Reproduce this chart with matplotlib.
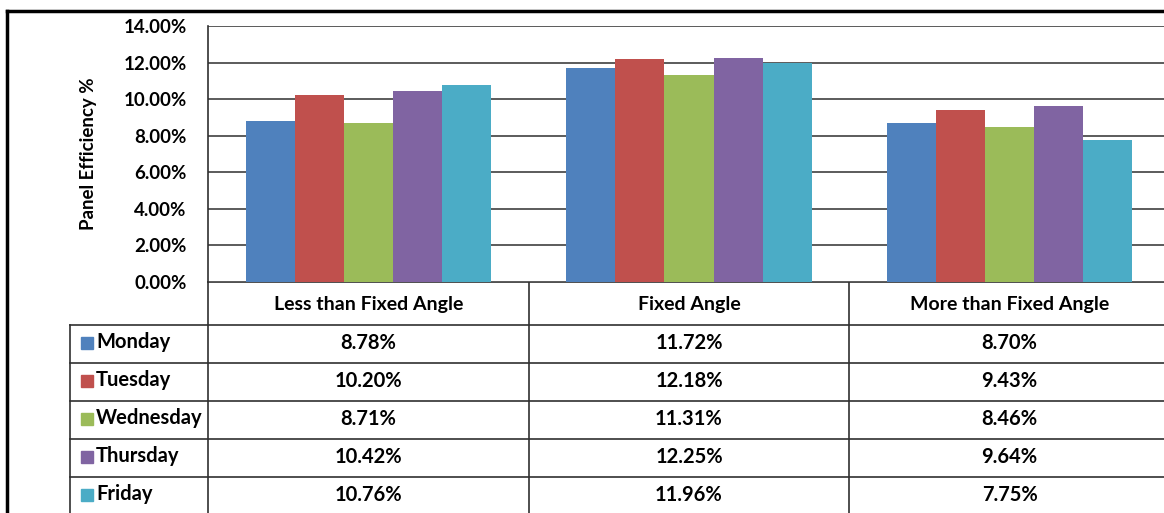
"""
Eficiencia del panel por angulo, grafico de barras con tabla de datos
"""

import matplotlib.pyplot as plt
from matplotlib.ticker import FuncFormatter

# datos ----------------------------------------------------------------------
categorias = ['Less than Fixed Angle', 'Fixed Angle', 'More than Fixed Angle']
dias = ['Monday', 'Tuesday', 'Wednesday', 'Thursday', 'Friday']
monday = [8.78, 11.72, 8.70]
tuesday = [10.20, 12.18, 9.43]
wednesday = [8.71, 11.31, 8.46]
thursday = [10.42, 12.25, 9.64]
friday = [10.76, 11.96, 7.75]
series = [monday, tuesday, wednesday, thursday, friday]
colores = ['#4F81BD', '#C0504D', '#9BBB59', '#8064A2', '#4BACC6']

plt.rcParams['font.family'] = ['Lato', 'DejaVu Sans']

W, H = 1164, 513
fig = plt.figure(figsize=(W / 100, H / 100), dpi=100)

# layout en pixeles
x0, x1 = 208, 1170        # area del grafico
ytop, ybot = 26, 282
col_w = (x1 - x0) / len(categorias)
leg_x = 70
row_h = 38
head_bot = 325

ax = fig.add_axes([x0 / W, 1 - ybot / H, (x1 - x0) / W, (ybot - ytop) / H])
ax.set_xlim(-0.5, len(categorias) - 0.5)
ax.set_ylim(0, 14)

ancho = 0.153
for i, (vals, c) in enumerate(zip(series, colores)):
    xs = [k + (i - 2) * ancho for k in range(len(categorias))]
    ax.bar(xs, vals, width=ancho, color=c, zorder=3)

ax.set_yticks(range(0, 15, 2))
ax.yaxis.set_major_formatter(FuncFormatter(lambda v, p: '%.2f%%' % v))
ax.grid(axis='y', color='#404040', lw=1.2, zorder=0)
ax.set_xticks([])
ax.tick_params(axis='y', length=0, pad=15.5, labelsize=13.5)
for lab in ax.get_yticklabels():
    lab.set_fontweight('bold')
for s in ['top', 'right', 'bottom']:
    ax.spines[s].set_visible(False)
ax.spines['left'].set_color('#303030')
ax.spines['left'].set_linewidth(1.2)
ax.set_ylabel('Panel Efficiency %', fontsize=13.5, fontweight='bold', labelpad=19)

# tabla de datos --------------------------------------------------------------
tab = fig.add_axes([0, 0, 1, 1], zorder=-1)
tab.set_xlim(0, W)
tab.set_ylim(H, 0)
tab.axis('off')
lc = '#303030'

# marco exterior
tab.plot([7, W + 5], [11, 11], color='black', lw=2.5)
tab.plot([7, 7], [11, H + 5], color='black', lw=2.5)

tab.plot([x0, W + 5], [ybot, ybot], color=lc, lw=1.2)
for r in range(len(dias) + 1):
    y = head_bot + r * row_h
    tab.plot([leg_x, W + 5], [y, y], color=lc, lw=1.2)
for k in range(len(categorias)):
    xv = x0 + k * col_w
    tab.plot([xv, xv], [ybot, H + 5], color=lc, lw=1.2)
tab.plot([leg_x, leg_x], [head_bot, H + 5], color=lc, lw=1.2)

for k, cat in enumerate(categorias):
    tab.text(x0 + (k + 0.5) * col_w, (ybot + head_bot) / 2 + 1, cat,
             ha='center', va='center', fontsize=14, fontweight='bold')

for r, (dia, vals, c) in enumerate(zip(dias, series, colores)):
    yc = head_bot + (r + 0.5) * row_h - 2
    tab.add_patch(plt.Rectangle((81, yc - 5), 12, 12, color=c))
    tab.text(96, yc, dia, ha='left', va='center', fontsize=14.5, fontweight='bold')
    for k, v in enumerate(vals):
        tab.text(x0 + (k + 0.5) * col_w, yc + 1, '%.2f%%' % v,
                 ha='center', va='center', fontsize=14.5, fontweight='bold')

fig.savefig('out.png', dpi=100)
